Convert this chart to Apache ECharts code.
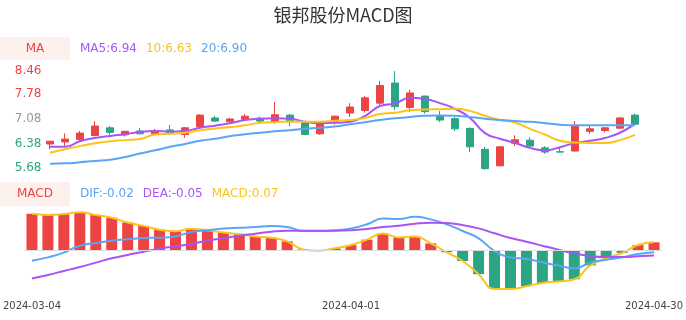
<!DOCTYPE html>
<html><head><meta charset="utf-8">
<script src="https://cdn.jsdelivr.net/npm/echarts@6/dist/echarts.min.js"></script>
<style>html,body{margin:0;padding:0;background:#fff}#c{width:686px;height:320px}</style>
</head><body><div id="c"></div>
<script>
const dates = ['2024-03-04','2024-03-05','2024-03-06','2024-03-07','2024-03-08','2024-03-11','2024-03-12','2024-03-13','2024-03-14','2024-03-15',
  '2024-03-18','2024-03-19','2024-03-20','2024-03-21','2024-03-22','2024-03-25','2024-03-26','2024-03-27','2024-03-28','2024-03-29',
  '2024-04-01','2024-04-02','2024-04-03','2024-04-08','2024-04-09','2024-04-10','2024-04-11','2024-04-12','2024-04-15','2024-04-16',
  '2024-04-17','2024-04-18','2024-04-19','2024-04-22','2024-04-23','2024-04-24','2024-04-25','2024-04-26','2024-04-29','2024-04-30'];
const opens  = [6.37,6.43,6.50,6.61,6.83,6.63,6.74,6.66,6.77,6.64, 6.86,7.11,7.00,7.07,7.10,6.98,7.19,6.97,6.66,7.00,
                7.25,7.32,7.53,8.10,7.41,7.73,7.15,7.09,6.81,6.22, 5.75,6.39,6.48,6.26,6.15,6.17,6.73,6.75,6.82,7.19];
const closes = [6.45,6.51,6.68,6.88,6.70,6.73,6.66,6.75,6.69,6.83, 7.19,7.02,7.08,7.16,7.02,7.20,7.00,6.64,7.00,7.16,
                7.42,7.68,8.03,7.43,7.82,7.29,7.05,6.80,6.29,5.67, 6.29,6.49,6.31,6.14,6.14,6.88,6.80,6.83,7.11,6.93];
const lows   = [6.22,6.31,6.45,6.59,6.56,6.58,6.64,6.65,6.64,6.55, 6.85,7.00,6.97,7.04,6.94,6.95,6.87,6.62,6.63,6.92,
                7.14,7.26,7.46,7.33,7.28,7.23,6.99,6.74,6.14,5.64, 5.74,6.31,6.24,6.09,6.13,6.16,6.66,6.70,6.80,6.90];
const highs  = [6.46,6.67,6.74,7.02,6.88,6.74,6.83,6.80,6.91,6.85, 7.21,7.17,7.11,7.22,7.15,7.56,7.23,6.99,7.02,7.17,
                7.53,7.73,8.16,8.44,7.91,7.74,7.31,7.14,6.85,6.29, 6.31,6.62,6.57,6.31,6.28,7.02,6.91,6.85,7.14,7.23];
const ma5  = [6.29,6.29,6.45,6.54,6.60,6.65,6.71,6.74,6.72,6.74, 6.83,6.89,6.96,7.05,7.09,7.10,7.09,7.00,6.96,6.97,
              7.00,7.17,7.45,7.52,7.68,7.65,7.53,7.37,7.11,6.68, 6.52,6.40,6.26,6.19,6.28,6.40,6.46,6.54,6.69,6.94];
const ma10 = [6.12,6.22,6.31,6.39,6.45,6.48,6.51,6.64,6.66,6.69, 6.76,6.81,6.85,6.90,6.97,6.99,7.01,7.00,7.00,7.03,
              7.05,7.11,7.22,7.26,7.33,7.35,7.36,7.37,7.31,7.17, 7.05,6.98,6.80,6.64,6.46,6.41,6.40,6.40,6.48,6.63];
const ma20 = [5.81,5.82,5.85,5.89,5.92,6.00,6.10,6.19,6.29,6.37, 6.46,6.52,6.59,6.65,6.69,6.73,6.76,6.80,6.83,6.87,
              6.93,6.99,7.05,7.10,7.14,7.17,7.18,7.17,7.14,7.09, 7.05,7.02,7.00,6.96,6.92,6.90,6.90,6.90,6.90,6.90];
const dif  = [-0.097,-0.067,-0.024,0.039,0.064,0.085,0.097,0.109,0.112,0.124, 0.165,0.180,0.195,0.203,0.209,0.218,0.209,0.173,0.173,0.180,
              0.197,0.234,0.288,0.282,0.303,0.279,0.234,0.173,0.106,-0.009, -0.067,-0.082,-0.112,-0.142,-0.167,-0.115,-0.090,-0.067,-0.036,-0.02];
const dea  = [-0.26,-0.227,-0.191,-0.155,-0.115,-0.076,-0.045,-0.015,0.012,0.033, 0.055,0.085,0.106,0.130,0.148,0.167,0.176,0.176,0.176,0.175,
              0.179,0.191,0.209,0.221,0.239,0.248,0.245,0.227,0.197,0.152, 0.109,0.076,0.039,0.003,-0.030,-0.055,-0.064,-0.064,-0.057,-0.05];
const macd = [0.33,0.32,0.327,0.345,0.318,0.294,0.25,0.22,0.185,0.17, 0.194,0.179,0.16,0.145,0.124,0.112,0.079,0.005,-0.006,0.015,
              0.045,0.094,0.15,0.115,0.124,0.06,-0.02,-0.10,-0.22,-0.355, -0.355,-0.33,-0.30,-0.286,-0.266,-0.14,-0.075,-0.027,0.045,0.07];
const priceTicks = [5.68, 6.38, 7.08, 7.78, 8.46];
const priceMid = 7.08;
const xTickLabels = ['2024-03-04','2024-04-01','2024-04-30'];

const RED = '#ec4343', GREEN = '#2ba583', PURPLE = '#a855f7', YELLOW = '#fcc419', BLUE = '#5aa5f5';
const FONT = 'DejaVu Sans';
const BOXBG = '#fdf1ee';

const candleData = dates.map((d, i) => [opens[i], closes[i], lows[i], highs[i]]);
const last = a => a[a.length - 1].toFixed(2);

const chart = echarts.init(document.getElementById('c'), null, {renderer: 'canvas'});
const lineS = (name, data, color, xi, yi) => ({
  name, type: 'line', data, xAxisIndex: xi, yAxisIndex: yi, smooth: true, showSymbol: false, silent: true,
  lineStyle: {color, width: 2}, itemStyle: {color}, z: 3
});
chart.setOption({
  animation: false,
  textStyle: {fontFamily: FONT},
  title: {text: '银邦股份MACD图', left: 'center', top: 1,
    textStyle: {fontFamily: 'Noto Sans CJK SC', fontSize: 18, fontWeight: 'normal', color: '#333'}},
  graphic: [
    {type: 'rect', shape: {x: 0, y: 37, width: 70, height: 23}, style: {fill: BOXBG}, silent: true},
    {type: 'text', x: 35, y: 48.5, style: {text: 'MA', fill: RED, font: '12px "DejaVu Sans"', align: 'center', verticalAlign: 'middle'}},
    {type: 'text', x: 80, y: 48.5, style: {
      text: `{a|MA5:${last(ma5)}}{b|10:${last(ma10)}}{c|20:${last(ma20)}}`, verticalAlign: 'middle',
      rich: {a: {fill: PURPLE, fontSize: 12, fontFamily: FONT, padding: [0, 9, 0, 0]},
             b: {fill: YELLOW, fontSize: 12, fontFamily: FONT, padding: [0, 9, 0, 0]},
             c: {fill: BLUE, fontSize: 12, fontFamily: FONT}}}},
    {type: 'rect', shape: {x: 0, y: 182, width: 70, height: 24}, style: {fill: BOXBG}, silent: true},
    {type: 'text', x: 35, y: 194, style: {text: 'MACD', fill: RED, font: '12px "DejaVu Sans"', align: 'center', verticalAlign: 'middle'}},
    {type: 'text', x: 80, y: 194, style: {
      text: `{a|DIF:${last(dif)}}{b|DEA:${last(dea)}}{c|MACD:${last(macd)}}`, verticalAlign: 'middle',
      rich: {a: {fill: BLUE, fontSize: 12, fontFamily: FONT, padding: [0, 9, 0, 0]},
             b: {fill: PURPLE, fontSize: 12, fontFamily: FONT, padding: [0, 9, 0, 0]},
             c: {fill: YELLOW, fontSize: 12, fontFamily: FONT}}}}
  ],
  grid: [
    {left: 42.5, right: 43.5, top: 70.4, height: 97.9},
    {left: 20, right: 20, top: 205, height: 90}
  ],
  xAxis: [
    {type: 'category', gridIndex: 0, data: dates, show: false, boundaryGap: true},
    {type: 'category', gridIndex: 1, data: dates, boundaryGap: true,
      axisLine: {show: false}, axisTick: {show: false}, splitLine: {show: false},
      axisLabel: {interval: (i, v) => xTickLabels.includes(v), color: '#444', fontSize: 10, margin: 6, fontFamily: FONT}}
  ],
  yAxis: [
    {type: 'value', gridIndex: 0, min: 5.68, max: 8.46, scale: true,
      splitLine: {show: false}, axisLine: {show: false}, axisTick: {show: false},
      axisLabel: {customValues: priceTicks, formatter: v => Number(v).toFixed(2), fontSize: 12, margin: 1, fontFamily: FONT,
        color: v => { const n = Number(v); return Math.abs(n - priceMid) < 0.005 ? '#999' : (n > priceMid ? RED : GREEN); }}},
    {type: 'value', gridIndex: 1, min: -0.41, max: 0.41, show: false, splitLine: {show: false}}
  ],
  series: [
    {name: 'K', type: 'candlestick', xAxisIndex: 0, yAxisIndex: 0, data: candleData, barWidth: 8, silent: true,
      itemStyle: {color: RED, color0: GREEN, borderColor: RED, borderColor0: GREEN, borderWidth: 1}},
    lineS('MA5', ma5, PURPLE, 0, 0),
    lineS('MA10', ma10, YELLOW, 0, 0),
    lineS('MA20', ma20, BLUE, 0, 0),
    {name: 'MACDbar', type: 'bar', xAxisIndex: 1, yAxisIndex: 1, barWidth: 11, silent: true,
      data: macd.map(v => ({value: v, itemStyle: {color: v >= 0 ? RED : GREEN}})),
      markLine: {silent: true, symbol: 'none', label: {show: false}, lineStyle: {color: '#dddddd', type: 'solid', width: 1},
        data: [{yAxis: 0}]}},
    lineS('MACD', macd, YELLOW, 1, 1),
    lineS('DIF', dif, BLUE, 1, 1),
    lineS('DEA', dea, PURPLE, 1, 1)
  ]
});
</script></body></html>
